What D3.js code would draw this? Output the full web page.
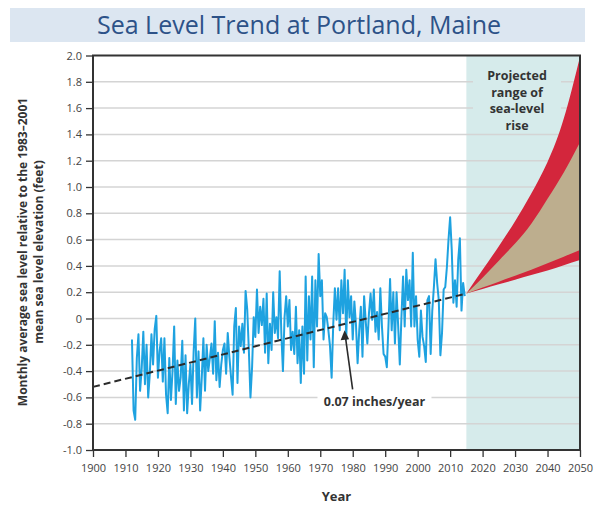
<!DOCTYPE html>
<html>
<head>
<meta charset="utf-8">
<script src="https://cdn.jsdelivr.net/npm/d3@7.9.0/dist/d3.min.js"></script>
<style>
  body { margin: 0; background: #fff; }
  svg { display: block; font-family: "Open Sans", sans-serif; }
</style>
</head>
<body>
<svg id="chart" width="600" height="505"></svg>
<script>
/* ---------- data --------- */
const startYear = 1912;
const stepYears = 0.5;
// half-yearly sea level, feet relative to 1983-2001 mean
const seaLevel = [
  -0.16, -0.70, -0.77, -0.30, -0.12, -0.55, -0.38, -0.10, -0.50, -0.20, -0.60, -0.42,
  -0.12, -0.35, -0.08, 0.02, -0.45, -0.25, -0.15, -0.48, -0.15, -0.58, -0.72, -0.30,
  -0.62, -0.40, -0.06, -0.65, -0.32, -0.55, -0.45, -0.17, -0.70, -0.28, -0.72, -0.50,
  -0.35, -0.65, -0.25, 0.00, -0.60, -0.25, -0.70, -0.45, -0.15, -0.55, -0.20, -0.40,
  -0.30, -0.19, -0.42, -0.02, -0.47, -0.26, -0.52, -0.35, -0.24, -0.19, -0.42, -0.11,
  -0.29, -0.44, -0.58, -0.06, 0.08, -0.49, -0.06, -0.21, -0.04, -0.26, 0.21, 0.07,
  -0.24, -0.60, -0.37, 0.01, -0.14, 0.22, -0.11, 0.09, -0.05, 0.15, -0.26, 0.19,
  -0.34, -0.04, -0.24, 0.20, -0.11, 0.01, -0.15, 0.36, -0.11, -0.40, 0.01, 0.17,
  -0.06, 0.14, -0.24, -0.10,
  -0.27, 0.09, -0.34, -0.09, -0.49, -0.06, -0.42, 0.32, -0.32, 0.17, -0.16, 0.32,
  -0.37, 0.29, -0.06, 0.49, 0.17, 0.29, -0.16, 0.04, 0.01, -0.09, -0.21, -0.45,
  -0.04, 0.23, -0.01, 0.23, -0.09, 0.29, 0.04, 0.37, -0.16, 0.29, 0.01, 0.17,
  -0.16, 0.13, -0.05, -0.34, -0.09, 0.09, -0.29, 0.17, -0.02, -0.19, 0.04, 0.19,
  -0.01, 0.22, -0.10, 0.05,
  -0.16, 0.23, -0.06, -0.27, -0.29, -0.37, -0.06, 0.30, -0.09, 0.20, -0.19, 0.20,
  -0.06, -0.35, 0.01, 0.32, -0.06, 0.37, 0.14, 0.29, -0.06, 0.50, -0.06, 0.17,
  -0.16, -0.29, 0.06, -0.14, -0.21, -0.33, 0.14, 0.17, -0.27, 0.06, 0.24, 0.45,
  0.27, 0.14, -0.28, -0.11, 0.22, 0.24, 0.39, 0.60, 0.77, 0.52, 0.12, 0.29,
  0.09, 0.45, 0.61, 0.06, 0.27, 0.17
];

// linear trend (0.07 inches/year)
const trendYears  = [1900, 2015];
const trendValues = [-0.52, 0.19];

// projected range
const projYears    = [2015, 2020, 2025, 2030, 2035, 2040, 2045, 2050];
const redHigh      = [0.19, 0.37, 0.55, 0.74, 0.95, 1.19, 1.52, 1.99];
const tanHigh      = [0.19, 0.31, 0.44, 0.57, 0.72, 0.91, 1.11, 1.34];
const tanLow       = [0.19, 0.235, 0.28, 0.325, 0.37, 0.42, 0.47, 0.52];
const redLow       = [0.19, 0.225, 0.26, 0.295, 0.33, 0.365, 0.405, 0.445];

const xTicks = d3.range(1900, 2051, 10);
const yTicks = [-1.0, -0.8, -0.6, -0.4, -0.2, 0, 0.2, 0.4, 0.6, 0.8, 1.0, 1.2, 1.4, 1.6, 1.8, 2.0];

const titleText = 'Sea Level Trend at Portland, Maine';
const yTitle = ['Monthly average sea level relative to the 1983\u20132001', 'mean sea level elevation (feet)'];
const projLabel = ['Projected', 'range of', 'sea-level', 'rise'];
const trendLabel = '0.07 inches/year';
const trendPoint = { year: 1977.5, value: -0.09 };
const trendLabelPos = { year: 1986.7, value: -0.63 };

/* ---------- layout --------- */
const svg = d3.select('#chart');
const area = { l: 93, r: 580, t: 55.5, b: 450 };

const x = d3.scaleLinear().domain([1900, 2050]).range([area.l, area.r]);
const y = d3.scaleLinear().domain([-1, 2]).range([area.b, area.t]);

/* ---------- title bar --------- */
svg.append('rect')
  .attr('x', 10).attr('y', 8).attr('width', 575).attr('height', 34)
  .attr('fill', '#dce6f1');
svg.append('text')
  .attr('x', 299).attr('y', 34)
  .attr('text-anchor', 'middle')
  .attr('font-size', 25)
  .attr('fill', '#2d5288')
  .text(titleText);

/* ---------- projected background --------- */
svg.append('rect')
  .attr('x', x(2015)).attr('y', area.t)
  .attr('width', x(2050) - x(2015)).attr('height', area.b - area.t)
  .attr('fill', '#d6ebeb');

/* ---------- gridlines --------- */
svg.append('g')
  .attr('class', 'grid')
  .selectAll('line')
  .data(yTicks.filter(d => d > -1 && d < 2))
  .join('line')
  .attr('x1', area.l).attr('x2', area.r)
  .attr('y1', d => y(d)).attr('y2', d => y(d))
  .attr('stroke', '#d4d4d4')
  .attr('stroke-width', 1.5);

/* ---------- projection label box --------- */
svg.append('rect')
  .attr('x', 473).attr('y', 66).attr('width', 88).attr('height', 65)
  .attr('fill', '#d6ebeb');
svg.append('text')
  .attr('text-anchor', 'middle')
  .attr('font-size', 12.5)
  .attr('font-weight', 'bold')
  .attr('fill', '#333')
  .selectAll('tspan')
  .data(projLabel)
  .join('tspan')
  .attr('x', 517)
  .attr('y', (d, i) => 80 + i * 16.5)
  .text(d => d);

/* ---------- projected range --------- */
const band = (hi, lo) => d3.area()
  .x((d, i) => x(projYears[i]))
  .y0((d, i) => y(lo[i]))
  .y1((d, i) => y(hi[i]))
  .curve(d3.curveNatural)(projYears);

svg.append('defs').append('clipPath').attr('id', 'plotClip')
  .append('rect')
  .attr('x', area.l).attr('y', area.t)
  .attr('width', area.r - area.l).attr('height', area.b - area.t);

const proj = svg.append('g').attr('clip-path', 'url(#plotClip)');
proj.append('path').attr('d', band(redHigh, redLow)).attr('fill', '#d3263c');
proj.append('path').attr('d', band(tanHigh, tanLow)).attr('fill', '#bdae8e');

/* ---------- observed series --------- */
const line = d3.line()
  .x((d, i) => x(startYear + i * stepYears))
  .y(d => y(d));

svg.append('path')
  .attr('d', line(seaLevel))
  .attr('fill', 'none')
  .attr('stroke', '#1ea2e0')
  .attr('stroke-width', 2)
  .attr('stroke-linejoin', 'round');

/* ---------- trend --------- */
svg.append('path')
  .attr('d', d3.line().x(d => x(d)).y((d, i) => y(trendValues[i]))(trendYears))
  .attr('fill', 'none')
  .attr('stroke', '#2b2b2b')
  .attr('stroke-width', 2)
  .attr('stroke-dasharray', '7,4');

/* ---------- trend annotation --------- */
const lx = x(trendLabelPos.year), ly = y(trendLabelPos.value);
svg.append('rect')
  .attr('x', lx - 57).attr('y', ly - 10).attr('width', 114).attr('height', 18)
  .attr('fill', '#fff');
svg.append('text')
  .attr('x', lx).attr('y', ly + 4.5)
  .attr('text-anchor', 'middle')
  .attr('font-size', 12.5)
  .attr('font-weight', 'bold')
  .attr('fill', '#333')
  .text(trendLabel);

const tipX = x(trendPoint.year), tipY = y(trendPoint.value);
svg.append('line')
  .attr('x1', tipX + 8).attr('y1', ly - 12)
  .attr('x2', tipX + 1).attr('y2', tipY + 8)
  .attr('stroke', '#2b2b2b').attr('stroke-width', 1.6);
svg.append('path')
  .attr('d', `M${tipX},${tipY} L${tipX - 4},${tipY + 10} L${tipX + 4.5},${tipY + 9} Z`)
  .attr('fill', '#2b2b2b');

/* ---------- axes --------- */
const fmtY = d => d === 0 ? '0' : d3.format('.1f')(d).replace('\u2212', '-');

svg.append('g')
  .attr('transform', `translate(${area.l},0)`)
  .call(d3.axisLeft(y).tickValues(yTicks).tickSize(7).tickPadding(4).tickFormat(fmtY))
  .call(g => g.select('.domain').remove())
  .call(g => g.selectAll('line').attr('stroke', '#333').attr('stroke-width', 1.3))
  .call(g => g.selectAll('text').attr('font-size', 11).attr('fill', '#444')
    .attr('font-family', '"Open Sans", sans-serif'));

svg.append('g')
  .attr('transform', `translate(0,${area.b})`)
  .call(d3.axisBottom(x).tickValues(xTicks).tickSize(7).tickPadding(7).tickFormat(d3.format('d')))
  .call(g => g.select('.domain').remove())
  .call(g => g.selectAll('line').attr('stroke', '#333').attr('stroke-width', 1.3))
  .call(g => g.selectAll('text').attr('font-size', 11).attr('fill', '#444')
    .attr('font-family', '"Open Sans", sans-serif'));

/* ---------- frame --------- */
svg.append('rect')
  .attr('x', area.l).attr('y', area.t)
  .attr('width', area.r - area.l).attr('height', area.b - area.t)
  .attr('fill', 'none')
  .attr('stroke', '#333')
  .attr('stroke-width', 2);

/* ---------- axis titles --------- */
svg.append('text')
  .attr('x', x(1975)).attr('y', 501)
  .attr('text-anchor', 'middle')
  .attr('font-size', 13)
  .attr('font-weight', 'bold')
  .attr('fill', '#333')
  .text('Year');

svg.append('text')
  .attr('transform', 'translate(0,252) rotate(-90)')
  .attr('text-anchor', 'middle')
  .attr('font-size', 12)
  .attr('font-weight', 'bold')
  .attr('fill', '#333')
  .selectAll('tspan')
  .data(yTitle)
  .join('tspan')
  .attr('x', 0)
  .attr('y', (d, i) => 26.5 + i * 16)
  .text(d => d);
</script>
</body>
</html>
